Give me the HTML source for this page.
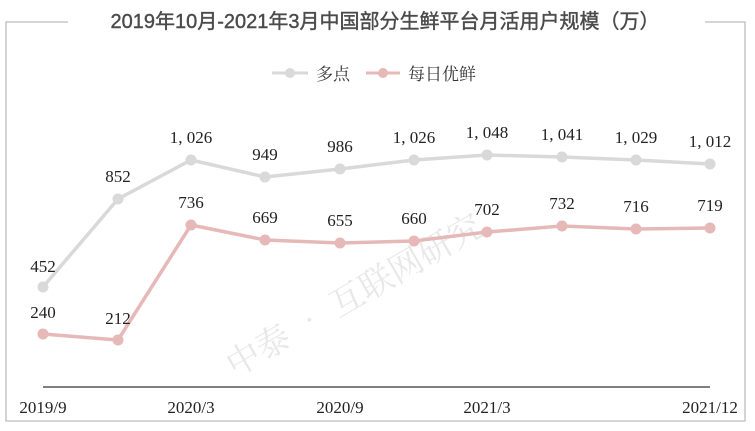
<!DOCTYPE html><html><head><meta charset="utf-8"><style>body{margin:0;background:#fff}svg{display:block}</style></head><body>
<svg width="755" height="431" xmlns="http://www.w3.org/2000/svg" font-family="'Liberation Serif','Noto Serif CJK SC',serif">
<rect width="755" height="431" fill="#fff"/>
<path d="M68,22 H6 V421 H745 V22 H705" fill="none" stroke="#bdbdbd" stroke-width="1.3"/>
<text x="385" y="28" text-anchor="middle" font-family="'Liberation Sans','Noto Sans CJK SC',sans-serif" font-size="20" fill="#4a4a4a" stroke="#4a4a4a" stroke-width="0.4">2019年10月-2021年3月中国部分生鲜平台月活用户规模（万）</text>
<line x1="272" y1="73" x2="308" y2="73" stroke="#d9d9d9" stroke-width="3"/><circle cx="290" cy="73" r="5" fill="#d9d9d9"/>
<text x="316" y="80" font-size="17" fill="#333" font-family="'Noto Serif CJK SC',serif">多点</text>
<line x1="366" y1="73" x2="400" y2="73" stroke="#e6b9b8" stroke-width="3"/><circle cx="383" cy="73" r="5" fill="#e6b9b8"/>
<text x="408" y="80" font-size="17" fill="#333" font-family="'Noto Serif CJK SC',serif">每日优鲜</text>
<text x="350" y="292" font-size="34" fill="#e8e8e8" transform="rotate(-30 380 280)" font-family="'Noto Serif CJK SC',serif" text-anchor="middle">中泰 • 互联网研究</text>
<line x1="43" y1="387" x2="710" y2="387" stroke="#555" stroke-width="1.5"/>
<polyline points="43,287 118,199 191,160 265,177 340,169 414,160 487,155 562,157 636,160 710,164" fill="none" stroke="#d9d9d9" stroke-width="3.5"/>
<polyline points="43,334 118,340 191,225 265,240 340,243 414,241 487,232 562,226 636,229 710,228" fill="none" stroke="#e6b9b8" stroke-width="3.5"/>
<g fill="#d9d9d9"><circle cx="43" cy="287" r="5.5"/><circle cx="118" cy="199" r="5.5"/><circle cx="191" cy="160" r="5.5"/><circle cx="265" cy="177" r="5.5"/><circle cx="340" cy="169" r="5.5"/><circle cx="414" cy="160" r="5.5"/><circle cx="487" cy="155" r="5.5"/><circle cx="562" cy="157" r="5.5"/><circle cx="636" cy="160" r="5.5"/><circle cx="710" cy="164" r="5.5"/></g>
<g fill="#e6b9b8"><circle cx="43" cy="334" r="5.5"/><circle cx="118" cy="340" r="5.5"/><circle cx="191" cy="225" r="5.5"/><circle cx="265" cy="240" r="5.5"/><circle cx="340" cy="243" r="5.5"/><circle cx="414" cy="241" r="5.5"/><circle cx="487" cy="232" r="5.5"/><circle cx="562" cy="226" r="5.5"/><circle cx="636" cy="229" r="5.5"/><circle cx="710" cy="228" r="5.5"/></g>
<g font-size="17" fill="#222" text-anchor="middle">
<text x="43" y="272">452</text><text x="118" y="182">852</text><text x="191" y="143">1, 026</text><text x="265" y="160">949</text><text x="340" y="152">986</text><text x="414" y="143">1, 026</text><text x="487" y="138">1, 048</text><text x="562" y="140">1, 041</text><text x="636" y="143">1, 029</text><text x="710" y="147">1, 012</text>
<text x="43" y="318">240</text><text x="118" y="324">212</text><text x="191" y="208">736</text><text x="265" y="223">669</text><text x="340" y="226">655</text><text x="414" y="224">660</text><text x="487" y="215">702</text><text x="562" y="209">732</text><text x="636" y="212">716</text><text x="710" y="211">719</text>
<text x="43" y="413">2019/9</text><text x="191" y="413">2020/3</text><text x="340" y="413">2020/9</text><text x="487" y="413">2021/3</text><text x="710" y="413">2021/12</text>
</g>
</svg></body></html>
